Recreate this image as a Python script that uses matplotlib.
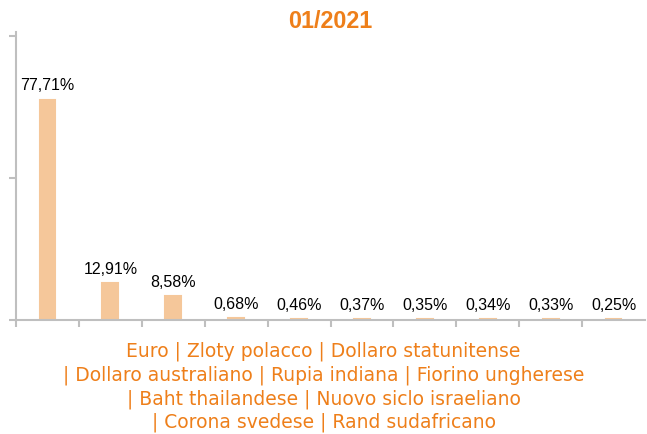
import matplotlib.pyplot as plt

currencies = [
    'Euro', 'Zloty polacco', 'Dollaro statunitense', 'Dollaro australiano',
    'Rupia indiana', 'Fiorino ungherese', 'Baht thailandese',
    'Nuovo siclo israeliano', 'Corona svedese', 'Rand sudafricano',
]
shares = [77.71, 12.91, 8.58, 0.68, 0.46, 0.37, 0.35, 0.34, 0.33, 0.25]
title = '01/2021'

orange = '#EE7F1A'
bar_color = '#F5C79A'
grey = '#BFBFBF'

fig = plt.figure(figsize=(6.47, 4.35), dpi=100)
ax = fig.add_axes([16 / 647, 114 / 435, 629 / 647, 288 / 435])

x = list(range(len(shares)))
ax.bar(x, shares, width=0.25, color=bar_color, edgecolor=bar_color, linewidth=1.5)
for xi, v in zip(x, shares):
    ax.text(xi, v + 2.5, f'{v:.2f}%'.replace('.', ','), ha='center', va='bottom',
            fontsize=11.5, family='Liberation Sans', color='black')

ax.set_xlim(-0.5, len(shares) - 0.5)
ax.set_ylim(0, 101.5)
ax.set_yticks([0, 50, 100])
ax.set_yticklabels([])
ax.set_xticks([i - 0.5 for i in range(len(shares))])
ax.set_xticklabels([])
ax.tick_params(axis='both', direction='out', color=grey, length=5, width=1.5)
for s in ['top', 'right']:
    ax.spines[s].set_visible(False)
for s in ['left', 'bottom']:
    ax.spines[s].set_color(grey)
    ax.spines[s].set_linewidth(1.5)

ax.set_title(title, fontsize=16.8, fontweight='bold', color=orange,
             family='Liberation Sans', pad=1)

lines = [
    ' | '.join(currencies[0:3]),
    '| ' + ' | '.join(currencies[3:6]),
    '| ' + ' | '.join(currencies[6:8]),
    '| ' + ' | '.join(currencies[8:10]),
]
fig.text(0.5, (435 - 342) / 435, '\n'.join(lines), ha='center', va='top', fontsize=13.5,
         color=orange, family='DejaVu Sans', linespacing=1.27)

fig.savefig('out.png', dpi=100)
